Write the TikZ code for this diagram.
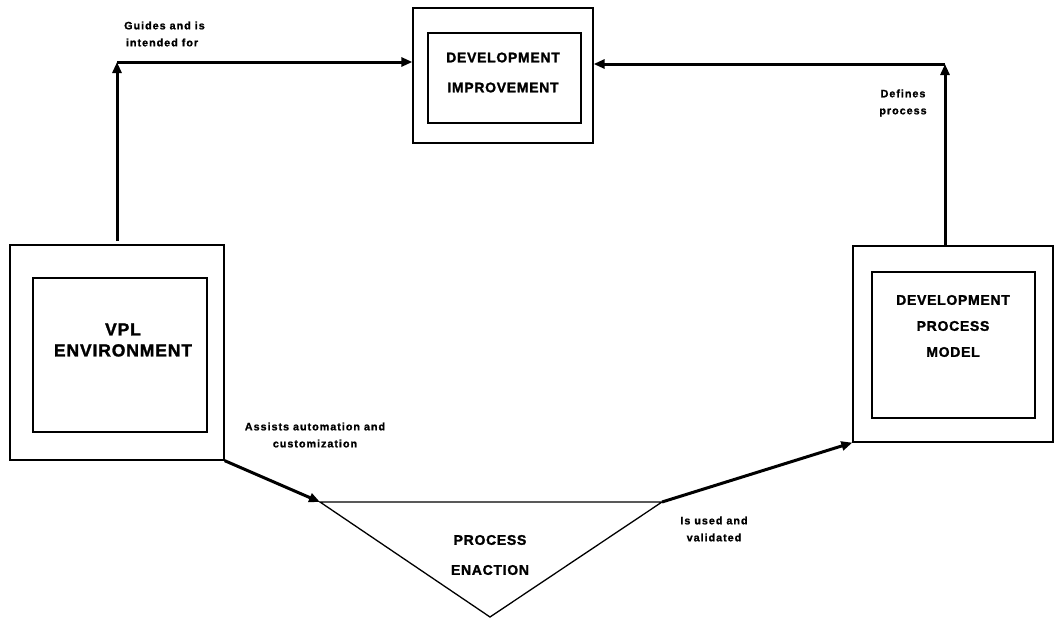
\documentclass[tikz,border=0pt]{standalone}
\usepackage{fontspec}
\setmainfont{Liberation Sans}
\newfontfamily\lblfont[LetterSpace=9,FakeBold=1.2]{Liberation Sans Bold}
\newfontfamily\boxfont[LetterSpace=5,FakeBold=1.6]{Liberation Sans Bold}
\usetikzlibrary{arrows.meta}
\begin{document}
\begin{tikzpicture}[x=1pt,y=-1pt,
  outerbox/.style={draw,line width=1.3pt,inner sep=0pt},
  innerbox/.style={draw,line width=1.3pt,inner sep=0pt},
  flow/.style={line width=3pt,-{Triangle[length=11pt,width=9pt]}},
  tri/.style={line width=1.3pt},
  lbl/.style={font=\lblfont\fontsize{10.8}{17}\selectfont,align=center,inner sep=0pt},
  boxtxt/.style={font=\boxfont\fontsize{14}{30}\selectfont,align=center,inner sep=0pt},
  bigtxt/.style={font=\boxfont\fontsize{17.5}{21}\selectfont,align=center,inner sep=0pt}]
\useasboundingbox (0,0) rectangle (1055,624);

% boxes
\node[outerbox,minimum width=180pt,minimum height=135pt] (imp) at (503,75.5) {};
\node[innerbox,minimum width=153pt,minimum height=90pt] (impin) at (504.5,78) {};
\node[boxtxt] (imptxt) at (503,72.5) {DEVELOPMENT\\IMPROVEMENT};

\node[outerbox,minimum width=214pt,minimum height=215pt] (vpl) at (117,352.5) {};
\node[innerbox,minimum width=174pt,minimum height=154pt] (vplin) at (120,355) {};
\node[bigtxt] (vpltxt) at (123,340) {VPL\\ENVIRONMENT};

\node[outerbox,minimum width=200pt,minimum height=196pt] (dpm) at (953,344) {};
\node[innerbox,minimum width=163pt,minimum height=146pt] (dpmin) at (953.5,345) {};
\node[boxtxt,font=\boxfont\fontsize{14}{26}\selectfont] (dpmtxt) at (953,326) {DEVELOPMENT\\PROCESS\\MODEL};

% triangle
\coordinate (tl) at (320,502);
\coordinate (tr) at (662,502);
\coordinate (tb) at (490,617);
\draw[tri] (tl) -- (tr) -- (tb) -- cycle;
\node[boxtxt] (enact) at (490,555) {PROCESS\\ENACTION};

% connectors
\coordinate (c1) at (117,62);
\coordinate (v1) at (117,241);
\draw[flow] (v1) -- (c1);
\draw[flow] (c1) -- (imp.west |- c1);

\coordinate (c2) at (945,64);
\draw[flow] (dpm.north -| c2) -- (c2);
\draw[flow] (c2) -- (imp.east |- c2);

\draw[flow] (vpl.south east) -- (tl);
\draw[flow] (tr) -- (dpm.south west);

% labels
\node[lbl,align=left,anchor=west] (l1) at (124,34) {Guides and is\\\,intended for};
\node[lbl] (l2) at (903,103) {Defines\\process};
\node[lbl] (l3) at (315,435) {Assists automation and\\customization};
\node[lbl] (l4) at (714,529) {Is used and\\validated};
\end{tikzpicture}
\end{document}
